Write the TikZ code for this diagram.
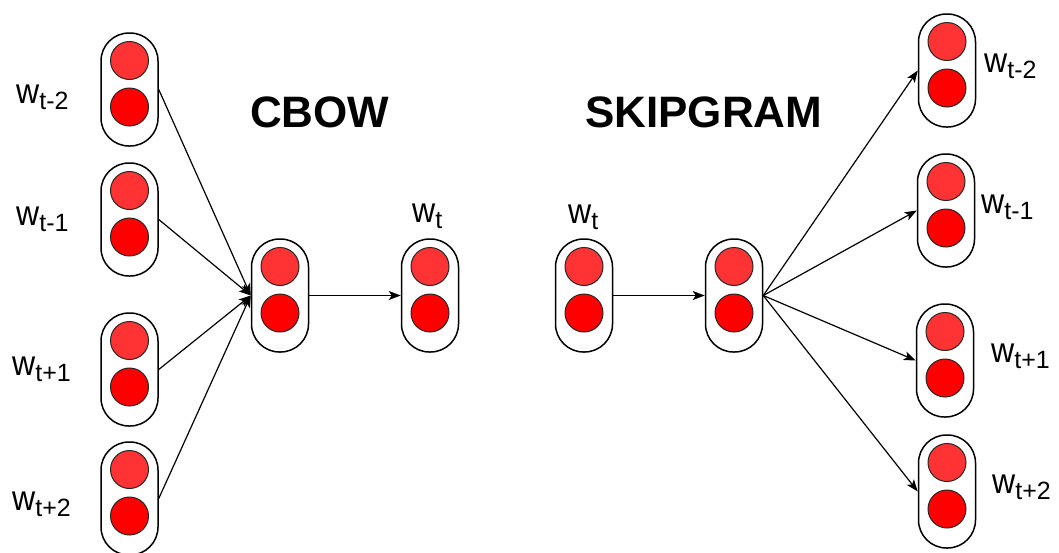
\documentclass[tikz,border=0pt]{standalone}
\usepackage{fontspec}
\setmainfont{Liberation Sans}
\usetikzlibrary{arrows.meta}
\definecolor{redtop}{HTML}{FF3333}
\definecolor{redbot}{HTML}{FF0000}
\tikzset{
  capsule/.style={draw=black, line width=1.5pt, fill=white, rectangle, rounded corners=28pt, minimum width=57pt, minimum height=113pt, inner sep=0pt},
  neurontop/.style={circle, draw=black!85, line width=1pt, fill=redtop, minimum size=38pt, inner sep=0pt},
  neuronbot/.style={circle, draw=black!85, line width=1pt, fill=redbot, minimum size=38pt, inner sep=0pt},
  conn/.style={line width=1.2pt, -{Stealth[length=12pt,width=9pt,inset=3pt]}},
  title/.style={font=\fontsize{44}{44}\selectfont\bfseries, anchor=base west, inner sep=0pt},
  wlabel/.style={anchor=base west, inner sep=0pt}
}
\newcommand{\wcap}[3]{%
  \node[capsule] (#1) at (#2,#3+56.5) {};
  \node[neurontop] (#1a) at (#2,#3+27.5) {};
  \node[neuronbot] (#1b) at (#2,#3+74) {};
}
\newcommand{\wsub}[1]{\scalebox{1}[1.1]{\fontsize{32}{32}\selectfont w}\raisebox{-6pt}{\fontsize{25}{25}\selectfont #1}}
\begin{document}
\begin{tikzpicture}[x=1pt,y=-1pt]
\useasboundingbox (0,0) rectangle (1059,552);
% CBOW
\wcap{l1}{129.5}{33}
\wcap{l2}{129.5}{163}
\wcap{l3}{129.5}{313}
\wcap{l4}{129.5}{442}
\wcap{ch}{280}{239}
\wcap{co}{430}{239}
% SKIPGRAM
\wcap{si}{584}{239}
\wcap{sh}{734}{239}
\wcap{r1}{947}{14}
\wcap{r2}{946}{154}
\wcap{r3}{945}{304}
\wcap{r4}{947}{435}
% titles
\node[title] (tcbow) at (250,127) {CBOW};
\node[title] (tskip) at (585,127) {SKIPGRAM};
% labels
\node[wlabel] (lab1) at (16,103) {\wsub{t-2}};
\node[wlabel] (lab2) at (16,225) {\wsub{t-1}};
\node[wlabel] (lab3) at (12,375) {\wsub{t+1}};
\node[wlabel] (lab4) at (12,510) {\wsub{t+2}};
\node[wlabel] (labco) at (412,222) {\wsub{t}};
\node[wlabel] (labsi) at (568,223) {\wsub{t}};
\node[wlabel] (labr1) at (984,72) {\wsub{t-2}};
\node[wlabel] (labr2) at (981,213) {\wsub{t-1}};
\node[wlabel] (labr3) at (991,362) {\wsub{t+1}};
\node[wlabel] (labr4) at (992,493) {\wsub{t+2}};
% connectors
\foreach \s in {l1,l2,l3,l4} \draw[conn] (\s.east) -- (ch.west);
\draw[conn] (ch.east) -- (co.west);
\draw[conn] (si.east) -- (sh.west);
\foreach \t in {r1,r2,r3,r4} \draw[conn] (sh.east) -- (\t.west);
\end{tikzpicture}
\end{document}
